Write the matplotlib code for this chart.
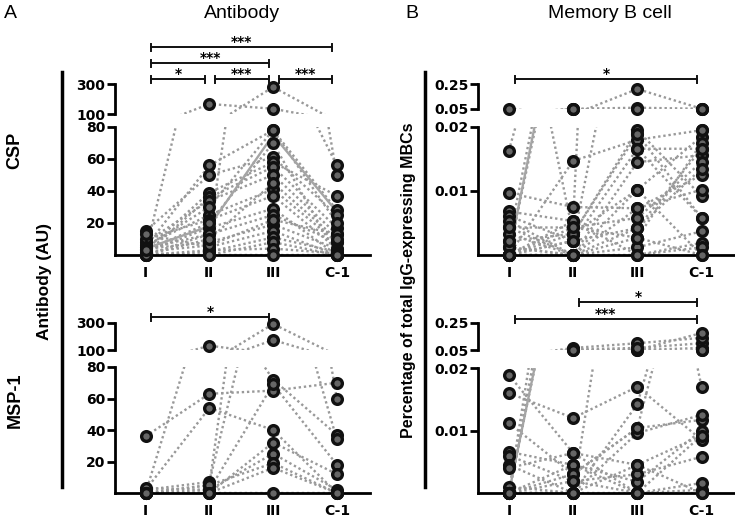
import numpy as np
import matplotlib
matplotlib.use('Agg')
import matplotlib.pyplot as plt
from matplotlib.lines import Line2D
from matplotlib import transforms

plt.rcParams['font.family'] = ['Liberation Sans', 'DejaVu Sans']

W, H = 735, 519

timepoints = ['I', 'II', 'III', 'C-1']

# Antibody (AU) against CSP, one row per volunteer: I, II, III, C-1
csp_ab = [
    [2, 167, 135, 56],
    [4, 13, 280, 50],
    [5, 56, 78, 28],
    [15, 50, 61, 25],
    [3, 39, 58, 37],
    [1, 36, 55, 17],
    [8, 34, 50, 13],
    [6, 25, 41, 8],
    [10, 22, 37, 4],
    [2, 17, 29, 0],
    [0, 13, 25, 8],
    [4, 8, 19, 4],
    [13, 5, 15, 0],
    [0, 2, 11, 2],
    [1, 0, 8, 0],
    [0, 3, 4, 1],
    [0, 0, 0, 0],
    [2, 6, 22, 13],
    [5, 30, 78, 20],
    [0, 10, 45, 10],
    [3, 20, 70, 0],
]
csp_ab_trend = [4, 18, 75, 27]

# Antibody (AU) against MSP-1
msp_ab = [
    [36, 63, 65, 70],
    [2, 54, 40, 0],
    [0, 132, 72, 37],
    [0, 5, 293, 60],
    [2, 7, 174, 34],
    [0, 2, 69, 18],
    [0, 0, 32, 12],
    [3, 2, 25, 2],
    [0, 5, 19, 0],
    [0, 0, 16, 0],
    [0, 0, 0, 0],
]
msp_ab_trend = None

# % of total IgG-expressing memory B cells, CSP
csp_mbc = [
    [0.052, 0.0033, 0.0102, 0.0185],
    [0.0163, 0.052, 0.06, 0.052],
    [0.0, 0.048, 0.0189, 0.0058],
    [0.0, 0.0147, 0.018, 0.0195],
    [0.0097, 0.0075, 0.0073, 0.0125],
    [0.0068, 0.0053, 0.21, 0.052],
    [0.0061, 0.0022, 0.0166, 0.0166],
    [0.0053, 0.0, 0.0145, 0.0156],
    [0.0043, 0.0043, 0.0058, 0.0145],
    [0.0033, 0.0, 0.0042, 0.0135],
    [0.0022, 0.0033, 0.0195, 0.0092],
    [0.0012, 0.0, 0.0027, 0.0175],
    [0.0, 0.0022, 0.052, 0.0195],
    [0.0, 0.0, 0.0012, 0.0037],
    [0.0, 0.0, 0.0, 0.0019],
    [0.0, 0.0053, 0.0, 0.0012],
    [0.0012, 0.0, 0.0102, 0.0],
    [0.0, 0.0033, 0.0189, 0.048],
    [0.0043, 0.0, 0.0073, 0.0102],
    [0.0, 0.0043, 0.0027, 0.0],
    [0.0022, 0.052, 0.0166, 0.0058],
    [0.0, 0.0022, 0.0042, 0.0166],
]
csp_mbc_trend = [0.0, 0.05, np.nan, np.nan]

# % of total IgG-expressing memory B cells, MSP-1
msp_mbc = [
    [0.0189, 0.0064, 0.0045, 0.0092],
    [0.016, 0.012, 0.017, 0.0085],
    [0.0112, 0.003, 0.0104, 0.0117],
    [0.0066, 0.0045, 0.0018, 0.01],
    [0.006, 0.0019, 0.003, 0.0058],
    [0.0045, 0.0, 0.0096, 0.0125],
    [0.004, 0.0064, 0.0, 0.0005],
    [0.001, 0.0, 0.0045, 0.0],
    [0.0, 0.05, 0.05, 0.065],
    [0.0, 0.055, 0.065, 0.1],
    [0.0, 0.065, 0.1, 0.14],
    [0.0, 0.05, 0.05, 0.176],
    [0.0, 0.0, 0.0142, 0.05],
    [0.0, 0.0, 0.065, 0.017],
    [0.0, 0.0045, 0.0, 0.0016],
    [0.0, 0.0, 0.0, 0.0],
    [0.0, 0.003, 0.0104, 0.05],
    [0.0, 0.0019, 0.0, 0.0092],
]
msp_mbc_trend = [0.0, 0.05, np.nan, np.nan]

# significance brackets (from, to, label)
csp_ab_sig = [(0, 3, '***'), (0, 2, '***'), (0, 1, '*'), (1, 2, '***'), (2, 3, '***')]
msp_ab_sig = [(0, 2, '*')]
csp_mbc_sig = [(0, 3, '*')]
msp_mbc_sig = [(1, 3, '*'), (0, 3, '***')]

fig = plt.figure(figsize=(W / 100, H / 100), dpi=100)

tick_font = dict(family='DejaVu Sans', weight='bold', size=10)


def px_axes(x0, x1, ytop, ybot):
    return fig.add_axes([x0 / W, 1 - ybot / H, (x1 - x0) / W, (ybot - ytop) / H])


def draw_panel(x0, x1, lo_box, up_box, rows, trend, lo_lim, up_lim, lo_ticks, up_ticks, fmt):
    ax_lo = px_axes(x0, x1, *lo_box)
    ax_up = px_axes(x0, x1, *up_box)
    xs = np.arange(len(timepoints))
    rows = np.array(rows, float)
    for ax, lim in ((ax_lo, lo_lim), (ax_up, up_lim)):
        for r in rows:
            ax.plot(xs, r, ls=(0, (1, 1.2)), color='#999999', lw=1.7, zorder=1)
        if trend is not None:
            ax.plot(xs, trend, color='#a5a5a5', lw=1.7, zorder=1)
        ax.set_ylim(*lim)
        ax.set_xlim(-0.48, 3.52)
        for s in ('top', 'right'):
            ax.spines[s].set_visible(False)
        ax.spines['left'].set_linewidth(2)
        ax.spines['bottom'].set_linewidth(2)
        ax.tick_params(axis='y', length=6, width=2, pad=1)
    # markers go on the segment they belong to
    allx = np.broadcast_to(xs, rows.shape)
    lo_mask = rows <= lo_lim[1]
    for ax, mask in ((ax_lo, lo_mask), (ax_up, ~lo_mask)):
        ax.plot(allx[mask], rows[mask], 'o', ms=7, mfc='#666666', mec='#111111',
                mew=2.4, clip_on=False, zorder=3)

    ax_lo.set_yticks(lo_ticks)
    ax_lo.set_yticklabels([fmt.format(t) for t in lo_ticks], fontdict=tick_font)
    ax_lo.set_xticks(xs)
    ax_lo.set_xticklabels(timepoints, fontdict=tick_font)
    ax_lo.tick_params(axis='x', length=3, width=2, pad=5)

    ax_up.spines['bottom'].set_visible(False)
    ax_up.set_xticks([])
    ax_up.set_yticks(up_ticks)
    ax_up.set_yticklabels([fmt.format(t) for t in up_ticks], fontdict=tick_font)
    ax_up.patch.set_alpha(0)
    return ax_lo, ax_up


def bracket(ax, a, b, ypx, label):
    tr = transforms.blended_transform_factory(ax.transData, fig.transFigure)
    xa, xb = a + 0.09, b - 0.07
    y = 1 - ypx / H
    cap = 3.5 / H
    kw = dict(color='#111111', lw=1.4, transform=tr, clip_on=False)
    ax.plot([xa, xb], [y, y], **kw)
    ax.plot([xa, xa], [y - cap, y + cap], **kw)
    ax.plot([xb, xb], [y - cap, y + cap], **kw)
    ax.text((xa + xb) / 2, y + 1 / H, label, transform=tr, ha='center', va='baseline',
            fontsize=10, fontweight='bold', family='DejaVu Sans')


# A: antibody
_, up = draw_panel(115, 370, (127, 255), (84, 114), csp_ab, csp_ab_trend,
                   (0, 80), (100, 300), [20, 40, 60, 80], [100, 300], '{:g}')
for (a, b, lab), ypx in zip(csp_ab_sig, [47, 63, 79, 79, 79]):
    bracket(up, a, b, ypx, lab)

_, up = draw_panel(115, 370, (367, 493), (323, 350), msp_ab, msp_ab_trend,
                   (0, 80), (100, 300), [20, 40, 60, 80], [100, 300], '{:g}')
for (a, b, lab), ypx in zip(msp_ab_sig, [317]):
    bracket(up, a, b, ypx, lab)

# B: memory B cells
_, up = draw_panel(478, 735, (127, 255), (84, 109), csp_mbc, csp_mbc_trend,
                   (0, 0.02), (0.05, 0.25), [0.01, 0.02], [0.05, 0.25], '{:.2f}')
for (a, b, lab), ypx in zip(csp_mbc_sig, [79]):
    bracket(up, a, b, ypx, lab)

_, up = draw_panel(478, 735, (368, 493), (323, 350), msp_mbc, msp_mbc_trend,
                   (0, 0.02), (0.05, 0.25), [0.01, 0.02], [0.05, 0.25], '{:.2f}')
for (a, b, lab), ypx in zip(msp_mbc_sig, [302, 319]):
    bracket(up, a, b, ypx, lab)

# long label bars
for xpx in (62, 425):
    fig.add_artist(Line2D([xpx / W, xpx / W], [1 - 72 / H, 1 - 487 / H], color='black', lw=2.5))


def ftext(xpx, ypx, s, **kw):
    fig.text(xpx / W, 1 - ypx / H, s, ha='center', va='center', **kw)


ftext(10, 13, 'A', fontsize=14)
ftext(242, 14, 'Antibody', fontsize=14)
ftext(412, 13, 'B', fontsize=14)
ftext(610, 14, 'Memory B cell', fontsize=14)
ftext(15, 150, 'CSP', fontsize=13, fontweight='bold', rotation=90)
ftext(15, 400, 'MSP-1', fontsize=13, fontweight='bold', rotation=90)
ftext(45, 282, 'Antibody (AU)', fontsize=12.5, fontweight='bold', rotation=90)
ftext(408, 280, 'Percentage of total IgG-expressing MBCs', fontsize=11.5, fontweight='bold', rotation=90)

fig.savefig('out.png', dpi=100)
